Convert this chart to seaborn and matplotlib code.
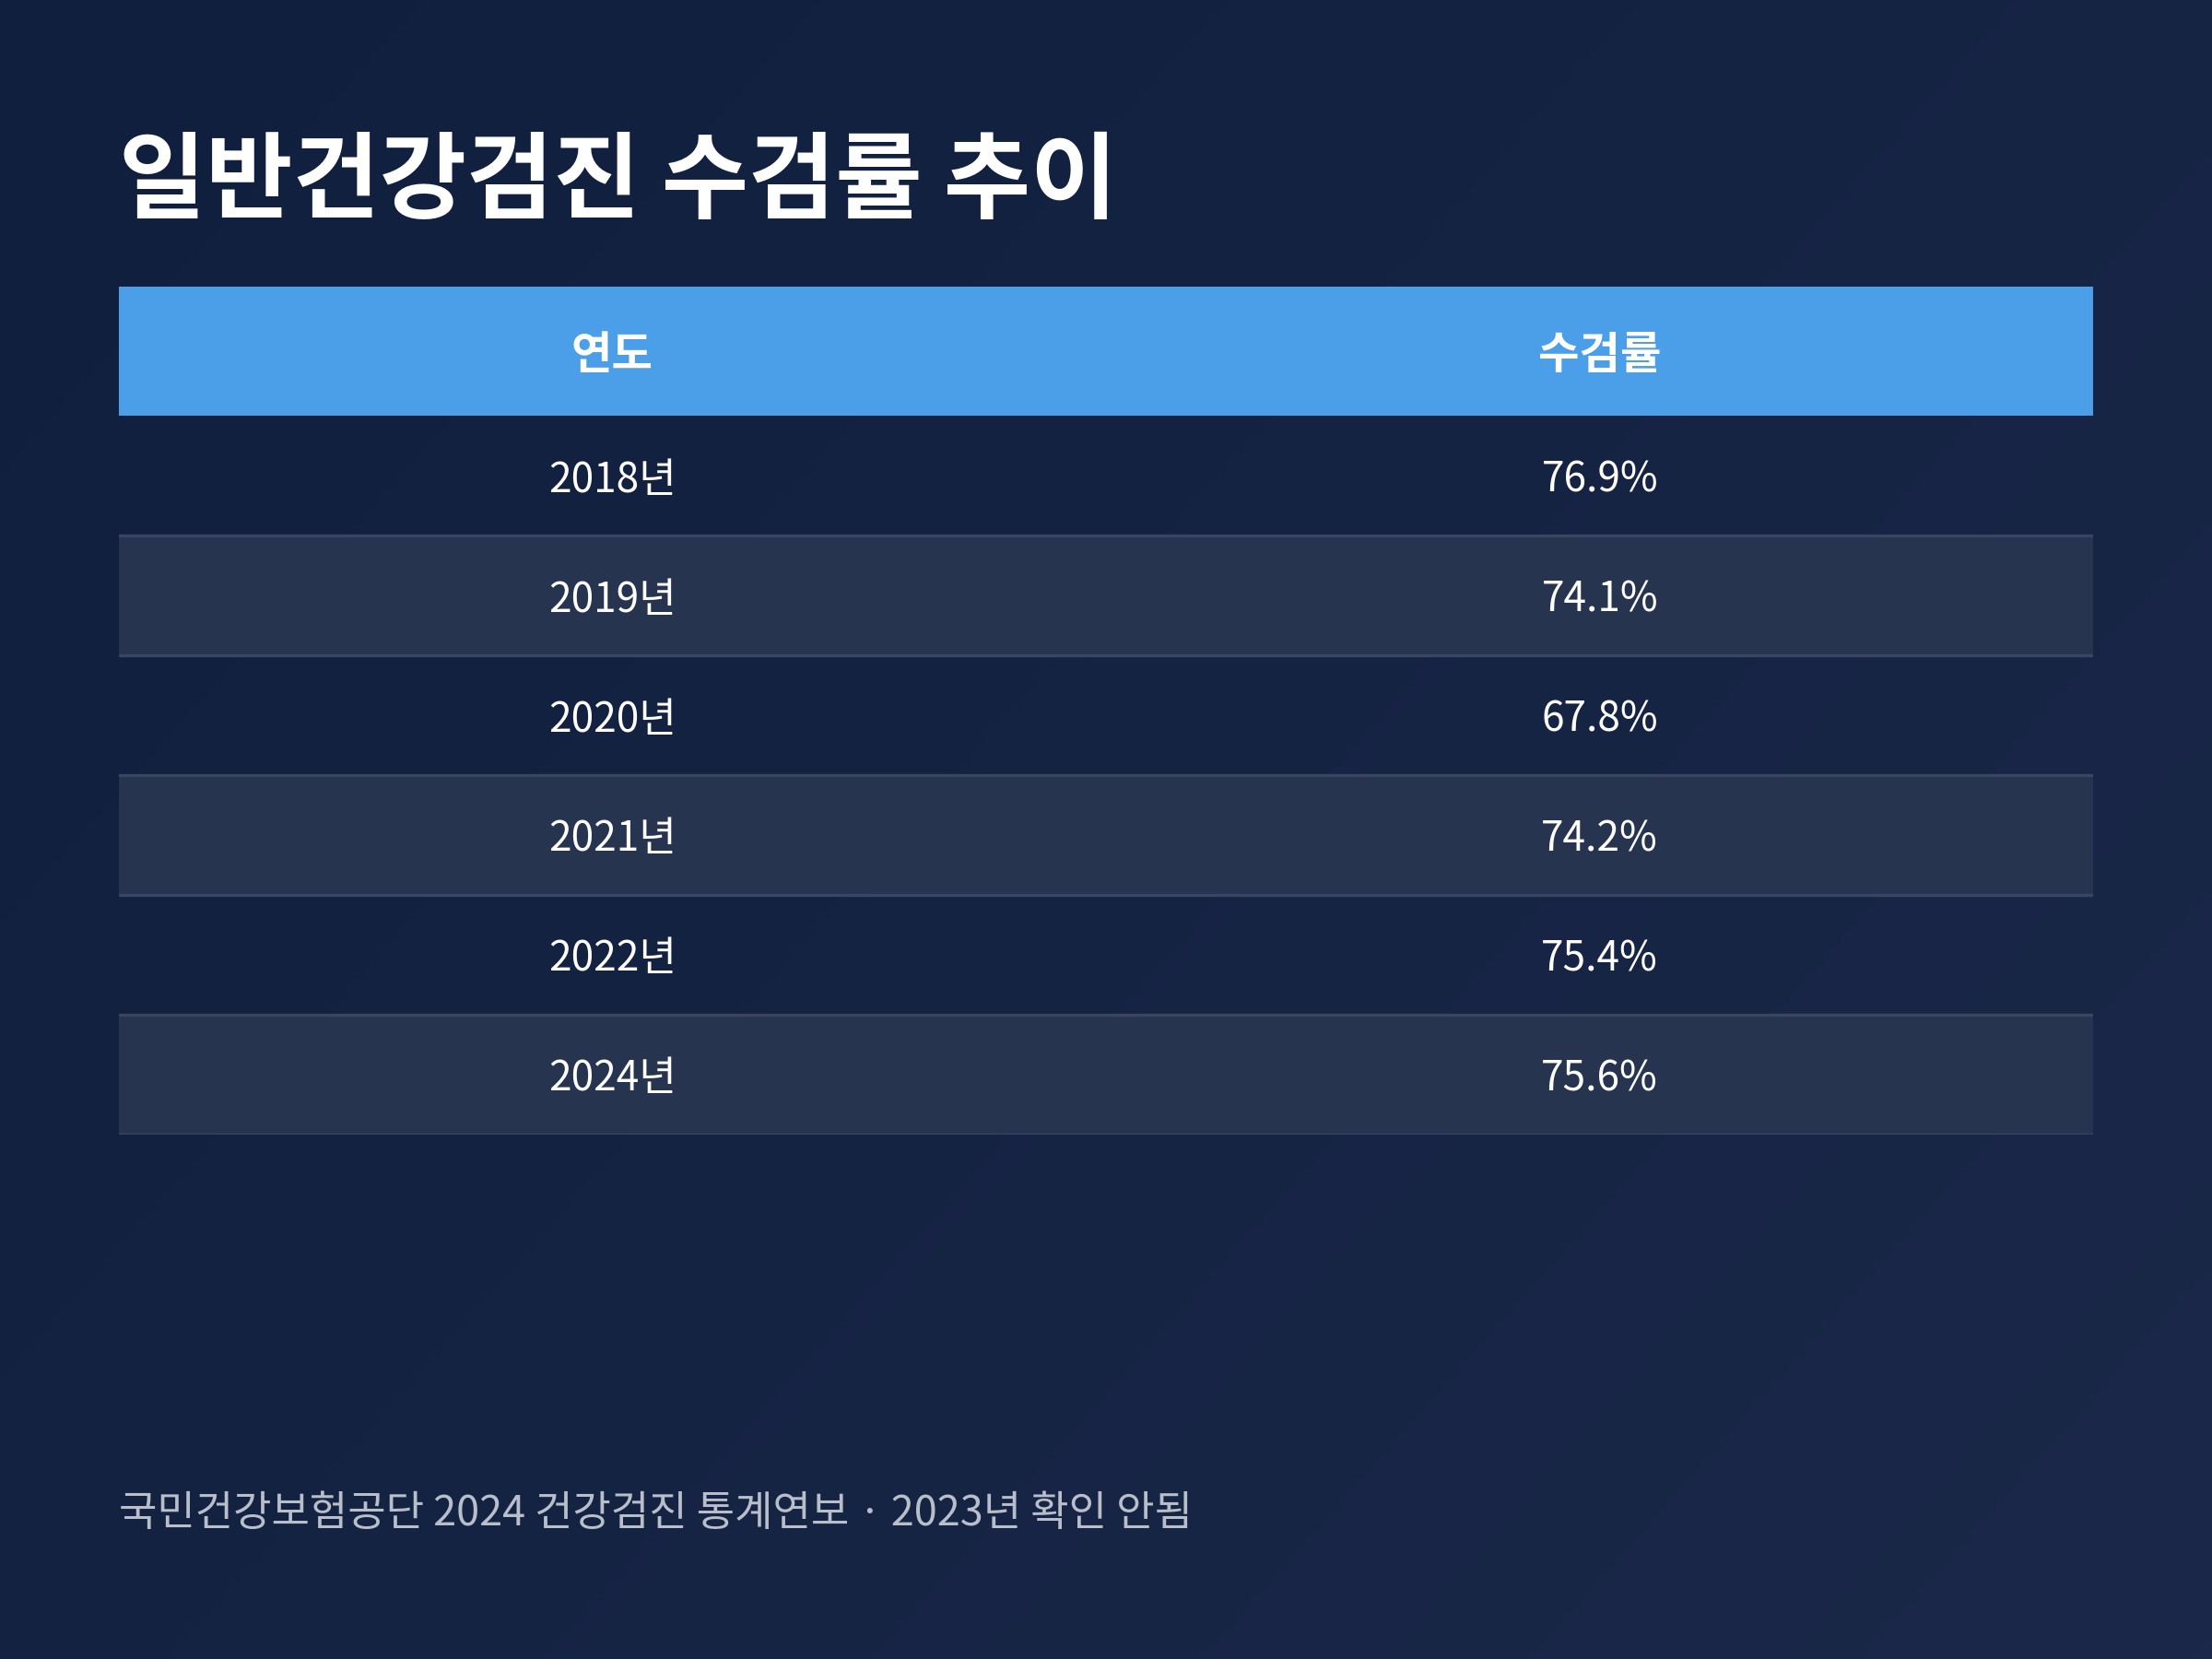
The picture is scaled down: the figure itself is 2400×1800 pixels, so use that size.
import numpy as np
import matplotlib
matplotlib.use("Agg")
import matplotlib.pyplot as plt
import seaborn as sns
from matplotlib.colors import LinearSegmentedColormap

years = ["2018년", "2019년", "2020년", "2021년", "2022년", "2024년"]
rates = ["76.9%", "74.1%", "67.8%", "74.2%", "75.4%", "75.6%"]
headers = ["연도", "수검률"]
title = "일반건강검진 수검률 추이"
source = "국민건강보험공단 2024 건강검진 통계연보 · 2023년 확인 안됨"

sns.set_theme(style="white")
plt.rcParams['font.family'] = ['Noto Sans CJK KR', 'DejaVu Sans']

fig = plt.figure(figsize=(8, 6), dpi=300)
bg = fig.add_axes([0, 0, 1, 1])
g = np.linspace(0, 1, 256)
grad = (g[None, :] * 0.6 + g[:, None] * 0.4)
cm = LinearSegmentedColormap.from_list("bg", ["#101f3e", "#1b2849"])
bg.imshow(grad, cmap=cm, aspect="auto", extent=[0, 1, 0, 1], origin="upper")
bg.set_axis_off()

fig.text(84/1568, 1-130/1176, title, color="white", fontsize=24.6, fontweight="bold",
         va="center", ha="left")
fig.text(84/1568, 1-1073/1176, source, color="#b9bfca", fontsize=10.8, va="center", ha="left")

ax = fig.add_axes([84/1568, 1-804/1176, 1400/1568, 601/1176])
ax.set_xlim(0, 1)
H, R = 92, 85
total = H + R*len(years)
ax.set_ylim(total, 0)
ax.set_axis_off()
ax.patch.set_alpha(0)

ax.barh([H/2], [1], height=H, left=0, color="#4a9fe8", align="center", linewidth=0)
for j, h in enumerate(headers):
    ax.text(0.25 + 0.5*j, H/2 + 3, h, color="white", fontsize=11.6, fontweight="bold",
            ha="center", va="center")
for i, (y, r) in enumerate(zip(years, rates)):
    yc = H + R*i + R/2
    if i % 2 == 1:
        ax.barh([yc], [1], height=R, left=0, color="#273450", align="center", linewidth=0)
    ax.axhline(H + R*(i+1), color="#3a4661", lw=0.8)
    ax.text(0.25, yc + 3, y, color="white", fontsize=10.6, ha="center", va="center")
    ax.text(0.75, yc + 3, r, color="white", fontsize=10.6, ha="center", va="center")

fig.savefig("out.png", dpi=300)
